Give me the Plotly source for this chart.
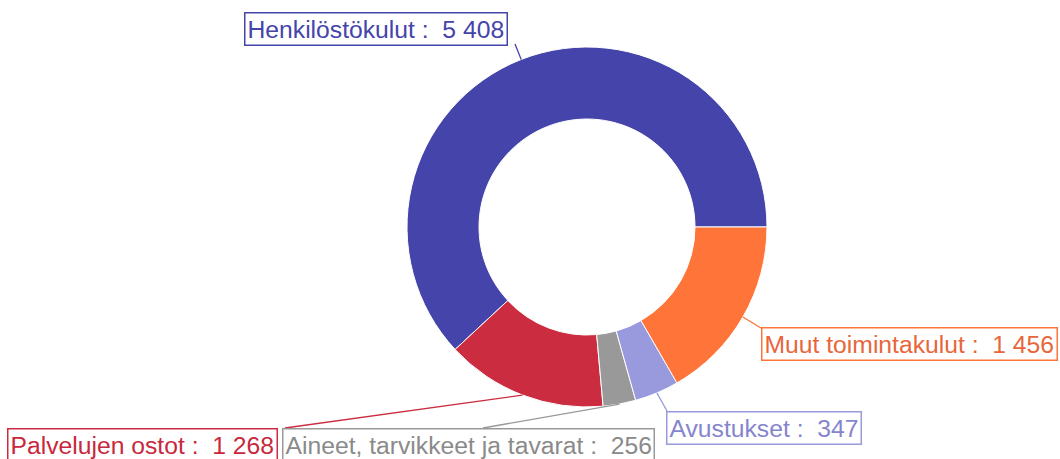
import math
import plotly.graph_objects as go

# ---- data ----
categories = ["Henkilöstökulut", "Palvelujen ostot", "Aineet, tarvikkeet ja tavarat", "Avustukset", "Muut toimintakulut"]
values = [5408, 1268, 256, 347, 1456]
colors = ["#4444AA", "#CC2C40", "#999999", "#9999DD", "#FF7438"]
text_colors = ["#4444AA", "#C8283C", "#8A8A8A", "#8585CC", "#E8663A"]

# ---- layout constants (pixels) ----
W, H = 1060, 459
CX, CY, R = 587, 227, 180
HOLE = 0.6

# label boxes: (left, top) and leader-line end point on the box
label_box = {
    "Henkilöstökulut": (244, 12, 515, 44),
    "Palvelujen ostot": (7, 428, 285, 428),
    "Aineet, tarvikkeet ja tavarat": (282, 428, 483, 428),
    "Avustukset": (666, 411, 667, 411),
    "Muut toimintakulut": (761, 327, 761, 328),
}

def px(x):
    return x / W

def py(y):
    return 1 - y / H

total = sum(values)
# first slice runs counterclockwise from 3 o'clock
rotation = 90 - values[0] / total * 360.0

fig = go.Figure(go.Pie(
    labels=categories,
    values=values,
    hole=HOLE,
    sort=False,
    direction="counterclockwise",
    rotation=rotation,
    marker=dict(colors=colors, line=dict(color="white", width=1)),
    textinfo="none",
    hoverinfo="label+value",
    domain=dict(x=[px(CX - R), px(CX + R)], y=[py(CY + R), py(CY - R)]),
))

def fmt(v):
    return f"{v:,}".replace(",", "\u00a0")

cum = 0.0
annotations = []
shapes = []
for cat, v, tc, c in zip(categories, values, text_colors, colors):
    mid = (cum + v / 2) / total * 360.0
    cum += v
    a = math.radians(mid)
    sx = CX + R * math.cos(a)
    sy = CY - R * math.sin(a)
    bl, bt, ex, ey = label_box[cat]
    shapes.append(dict(type="line", xref="paper", yref="paper",
                       x0=px(sx), y0=py(sy), x1=px(ex), y1=py(ey),
                       line=dict(color=c, width=1.3)))
    annotations.append(dict(
        x=px(bl), y=py(bt), xref="paper", yref="paper",
        xanchor="left", yanchor="top", showarrow=False,
        text=f"{cat} :\u00a0 {fmt(v)}",
        font=dict(family="Liberation Sans, Arial, sans-serif", size=24.7, color=tc),
        bordercolor=c, borderwidth=1.5, borderpad=2, bgcolor="white",
    ))

fig.update_layout(
    width=W, height=H,
    margin=dict(l=0, r=0, t=0, b=0),
    paper_bgcolor="white", plot_bgcolor="white",
    showlegend=False,
    annotations=annotations,
    shapes=shapes,
)

fig.write_html("out.html", config={"displayModeBar": False},
               post_script="document.body.style.margin='0';")
